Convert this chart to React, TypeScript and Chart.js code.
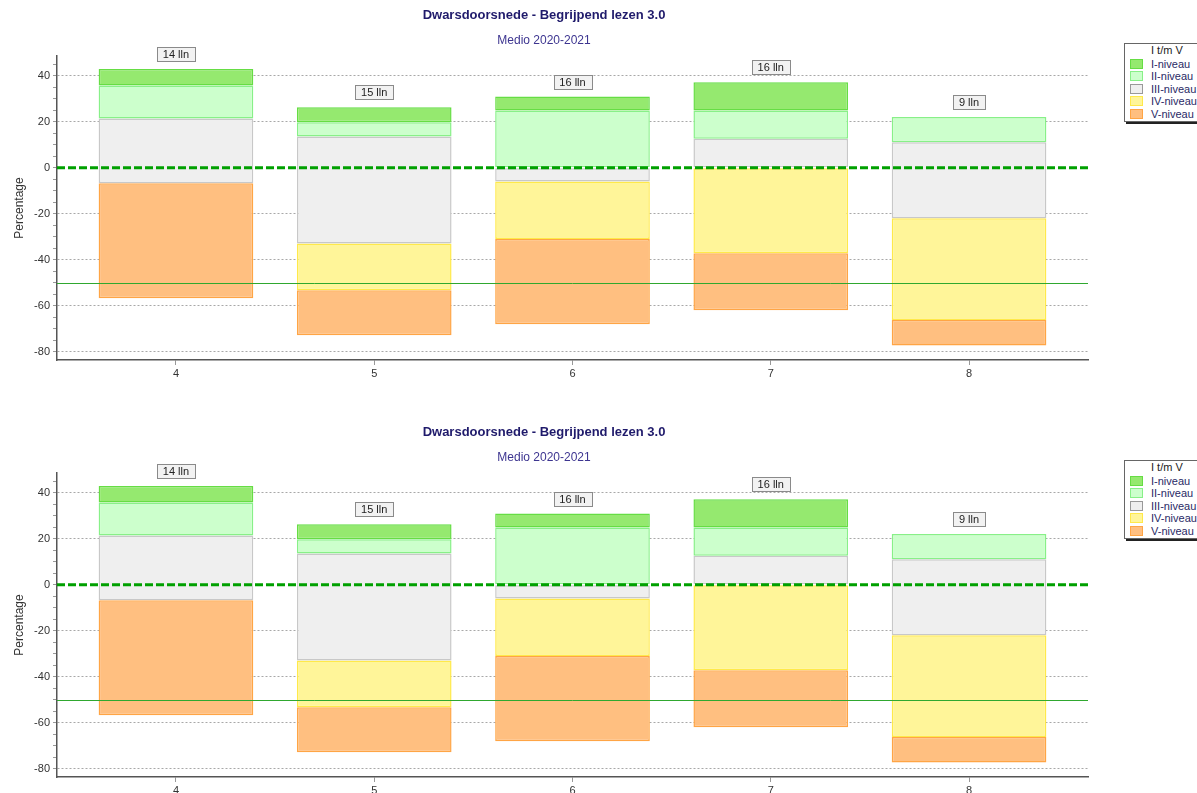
import React, { useEffect, useRef } from 'react';
import { Chart, registerables } from 'chart.js';

Chart.register(...registerables);

const FONT = '"Liberation Sans", Arial, Helvetica, sans-serif';

// ---- data ----
const chartTitle = 'Dwarsdoorsnede - Begrijpend lezen 3.0';
const chartSubtitle = 'Medio 2020-2021';
const yAxisTitle = 'Percentage';
const legendTitle = 'I t/m V';
const categories = [4, 5, 6, 7, 8];
const pupilCounts = ['14 lln', '15 lln', '16 lln', '16 lln', '9 lln'];
const levelNames = ['I-niveau', 'II-niveau', 'III-niveau', 'IV-niveau', 'V-niveau'];

// [low, high] per category, null = level absent
const levelI: (number[] | null)[] = [[35.7, 42.9], [19.7, 26.2], [24.8, 30.9], [24.8, 37.1], null];
const levelII: (number[] | null)[] = [[21.4, 35.7], [13.5, 19.7], [0, 24.8], [12.6, 24.8], [11.0, 22.0]];
const levelIII: (number[] | null)[] = [[-6.8, 21.4], [-32.9, 13.5], [-6.0, 0], [0, 12.6], [-22.0, 11.0]];
const levelIV: (number[] | null)[] = [null, [-53.2, -32.9], [-31.0, -6.0], [-37.2, 0], [-66.1, -22.0]];
const levelV: (number[] | null)[] = [[-56.7, -6.8], [-72.8, -53.2], [-68.0, -31.0], [-61.9, -37.2], [-77.2, -66.1]];
const levels = [levelI, levelII, levelIII, levelIV, levelV];

const zeroLineValue = 0;
const referenceLineValue = -50;
const yMin = -83.5;
const yMax = 48.5;
const xMin = 3.4;
const xMax = 8.6;

// ---- styles ----
const levelFill = ['#95e96f', '#ccffcc', '#efefef', '#fff599', '#ffbf80'];
const levelBorder = ['#66dd44', '#88f088', '#c8c8c8', '#ffe94a', '#ffa545'];

const CHART_W = 1096;
const CHART_H = 417;

function ChartPanel() {
  const ref = useRef<HTMLCanvasElement>(null);

  useEffect(() => {
    if (!ref.current) return;

    const overlay = {
      id: 'overlay',
      afterDatasetsDraw(chart: any) {
        const { ctx, chartArea } = chart;
        const x = chart.scales.x;
        const y = chart.scales.y;
        ctx.save();
        // reference line at -50
        const yr = Math.round(y.getPixelForValue(referenceLineValue)) + 0.5;
        ctx.strokeStyle = '#2fa82f';
        ctx.lineWidth = 1;
        ctx.setLineDash([]);
        ctx.beginPath();
        ctx.moveTo(chartArea.left, yr);
        ctx.lineTo(chartArea.right, yr);
        ctx.stroke();
        // dashed zero line
        const y0 = y.getPixelForValue(zeroLineValue);
        ctx.strokeStyle = '#00a000';
        ctx.lineWidth = 3;
        ctx.setLineDash([8, 3]);
        ctx.beginPath();
        ctx.moveTo(chartArea.left, y0);
        ctx.lineTo(chartArea.right, y0);
        ctx.stroke();
        ctx.setLineDash([]);

        // pupil count labels
        ctx.font = `11px ${FONT}`;
        ctx.textAlign = 'center';
        ctx.textBaseline = 'middle';
        categories.forEach((c, i) => {
          const highs = levels.map((l) => l[i]).filter((v) => v).map((v) => Math.max(...(v as number[])));
          const top = Math.max(...highs);
          const px = x.getPixelForValue(c);
          const py = y.getPixelForValue(top) - 15;
          const text = pupilCounts[i];
          const w = Math.round(ctx.measureText(text).width + 12);
          const h = 14;
          const bx = Math.round(px - w / 2) + 0.5;
          const by = Math.round(py - h / 2) + 0.5;
          ctx.fillStyle = '#f2f2f2';
          ctx.fillRect(bx, by, w, h);
          ctx.strokeStyle = '#8a8a8a';
          ctx.lineWidth = 1;
          ctx.strokeRect(bx, by, w, h);
          ctx.fillStyle = '#222';
          ctx.fillText(text, px, by + h / 2 + 0.5);
        });
        ctx.restore();
      },
    };

    const chart = new Chart(ref.current, {
      type: 'bar',
      data: {
        datasets: levels.map((vals, k) => ({
          label: levelNames[k],
          data: categories
            .map((c, i) => (vals[i] ? { x: c, y: vals[i] } : null))
            .filter((d) => d !== null) as any,
          backgroundColor: levelFill[k],
          borderColor: levelBorder[k],
          borderWidth: 1.5,
          borderSkipped: false,
          grouped: false,
          barPercentage: 0.78,
          categoryPercentage: 1,
        })),
      },
      options: {
        animation: false,
        responsive: false,
        maintainAspectRatio: false,
        layout: { padding: { left: 0, right: 8, top: 0, bottom: 0 } },
        plugins: {
          legend: { display: false },
          tooltip: { enabled: false },
          title: {
            display: true,
            text: chartTitle,
            color: '#1f1a6b',
            font: { family: FONT, size: 13, weight: 'bold' },
            padding: { top: 8, bottom: 10 },
          },
          subtitle: {
            display: true,
            text: chartSubtitle,
            color: '#3d3590',
            font: { family: FONT, size: 12 },
            padding: { top: 0, bottom: 8 },
          },
        },
        scales: {
          x: {
            type: 'linear',
            offset: false,
            min: xMin,
            max: xMax,
            afterBuildTicks: (s: any) => {
              s.ticks = categories.map((v) => ({ value: v }));
            },
            afterFit: (s: any) => {
              s.height = 57;
            },
            ticks: {
              autoSkip: false,
              color: '#333',
              font: { family: FONT, size: 11 },
              padding: 2,
              callback: (v: any) => String(v),
            },
            grid: {
              offset: false,
              drawOnChartArea: false,
              drawTicks: true,
              tickLength: 5,
              tickColor: '#999',
            },
            border: { color: '#555', width: 1.5 },
          },
          y: {
            type: 'linear',
            min: yMin,
            max: yMax,
            afterBuildTicks: (s: any) => {
              const t: any[] = [];
              for (let v = Math.ceil(yMin / 5) * 5; v <= yMax; v += 5) t.push({ value: v });
              s.ticks = t;
            },
            afterFit: (s: any) => {
              s.width = 57;
            },
            ticks: {
              autoSkip: false,
              color: '#333',
              font: { family: FONT, size: 11 },
              padding: 3,
              callback: (v: any) => (Number(v) % 20 === 0 ? String(v) : ''),
            },
            grid: {
              drawTicks: true,
              tickLength: 4,
              tickColor: '#999',
              lineWidth: 1,
              color: (c: any) =>
                c.tick && Number(c.tick.value) % 20 === 0 && Number(c.tick.value) !== 0 ? '#a8a8a8' : 'rgba(0,0,0,0)',
            },
            border: { color: '#555', width: 1.5, dash: [2, 2] },
            title: {
              display: true,
              text: yAxisTitle,
              color: '#333',
              font: { family: FONT, size: 12 },
              padding: { top: 12, bottom: 0 },
            },
          },
        },
      } as any,
      plugins: [overlay],
    });
    return () => chart.destroy();
  }, []);

  return <canvas ref={ref} width={CHART_W} height={CHART_H} style={{ display: 'block' }} />;
}

function Legend() {
  return (
    <div
      style={{
        position: 'absolute',
        left: 1124,
        top: 43,
        width: 84,
        border: '1px solid #666',
        background: '#fff',
        boxShadow: '2px 2px 0 #222',
        fontFamily: FONT,
        fontSize: 11,
        paddingBottom: 1,
      }}
    >
      <div style={{ paddingLeft: 26, color: '#222', lineHeight: '12.5px', height: 13.5 }}>{legendTitle}</div>
      {levelNames.map((n, k) => (
        <div key={n} style={{ display: 'flex', alignItems: 'center', height: 12.5, whiteSpace: 'nowrap' }}>
          <span
            style={{
              display: 'inline-block',
              marginLeft: 5,
              width: 11,
              height: 8,
              background: levelFill[k],
              border: `1px solid ${levelBorder[k] === '#c8c8c8' ? '#999' : levelBorder[k]}`,
            }}
          />
          <span style={{ marginLeft: 8, color: '#2a2a66' }}>{n}</span>
        </div>
      ))}
    </div>
  );
}

function Panel({ top }: { top: number }) {
  return (
    <div style={{ position: 'absolute', left: 0, top, width: 1197, height: CHART_H }}>
      <ChartPanel />
      <Legend />
    </div>
  );
}

export default function App() {
  return (
    <div
      style={{
        position: 'absolute',
        left: 0,
        top: 0,
        width: 1197,
        height: 793,
        overflow: 'hidden',
        background: '#fff',
      }}
    >
      <Panel top={0} />
      <Panel top={CHART_H} />
    </div>
  );
}
